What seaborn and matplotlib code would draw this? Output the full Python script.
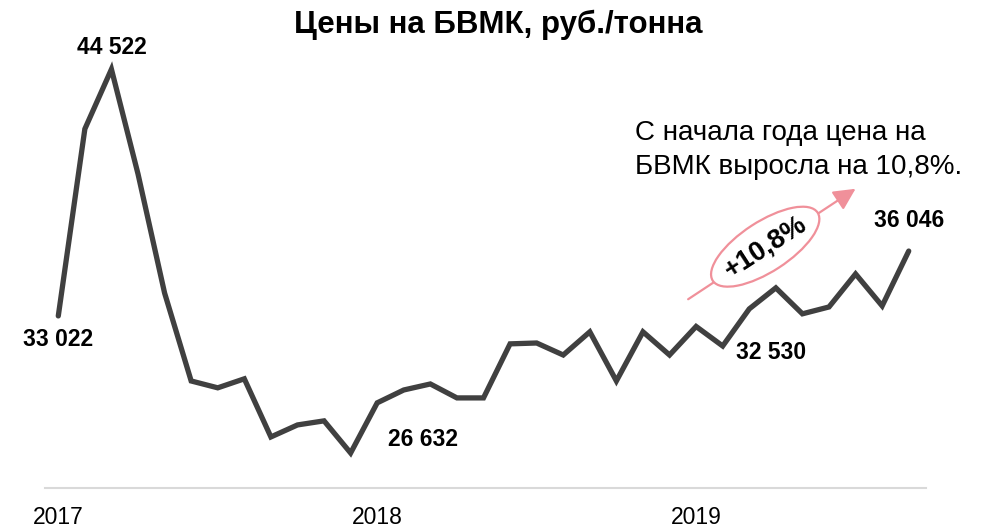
import matplotlib
matplotlib.use('Agg')
import matplotlib.pyplot as plt
import matplotlib.transforms as mtransforms
from matplotlib.patches import Ellipse
import numpy as np
import pandas as pd
import seaborn as sns

# monthly prices, Jan 2017 .. Sep 2019
months = pd.date_range('2017-01-01', periods=33, freq='MS')
prices = [33022, 41740, 44522, 39640, 34090, 29990, 29670, 30090, 27380, 27940, 28130, 26632,
          28970, 29570, 29850, 29200, 29200, 31720, 31760, 31200, 32280, 29990, 32280, 31200,
          32530, 31620, 33350, 34330, 33120, 33440, 34980, 33490, 36046]
year_ticks = ['2017', '2018', '2019']

# (index, label offset in points)
labeled = {0: (0, -17), 2: (0, 16), 11: (52, 9.5), 24: (54, -19), 32: (0, 22)}

title = 'Цены на БВМК, руб./тонна'
note = 'С начала года цена на\nБВМК выросла на 10,8%.'
growth = '+10,8%'

LINE_C = '#404040'
PINK = '#f0909a'

sns.set_theme(style='white')
plt.rcParams['font.family'] = ['Liberation Sans', 'DejaVu Sans']
plt.rcParams['text.color'] = 'black'
plt.rcParams['xtick.color'] = 'black'

df = pd.DataFrame({'i': np.arange(len(prices)), 'price': prices})

fig = plt.figure(figsize=(9.87, 5.29), dpi=100)
ax = fig.add_axes([45 / 987, 1 - 488 / 529, (926 - 45) / 987, (488 - 59) / 529])

sns.lineplot(data=df, x='i', y='price', ax=ax, color=LINE_C, lw=3.8,
             solid_joinstyle='miter')

ax.set_xlim(-0.5, 32.65)
ax.set_ylim(25000, 45000)
ax.set_yticks([])
ax.set_xticks([0, 12, 24])
ax.set_xticklabels(year_ticks, fontsize=16.5, color='black')
ax.tick_params(axis='x', length=0, pad=13)
ax.set_xlabel('')
ax.set_ylabel('')
for s in ['top', 'left', 'right']:
    ax.spines[s].set_visible(False)
ax.spines['bottom'].set_color('#d9d9d9')
ax.spines['bottom'].set_linewidth(1.5)

for i, off in labeled.items():
    ax.annotate(f'{prices[i]:,}'.replace(',', ' '), (i, prices[i]),
                xytext=off, textcoords='offset points',
                ha='center', va='center', fontsize=16.5, fontweight='bold',
                color='black')

fig.text(498 / 987, 1 - 25 / 529, title, ha='center', va='center',
         fontsize=22.5, fontweight='bold', color='black')

ax.text(21.7, 40750, note, fontsize=20, ha='left', va='center',
        linespacing=1.42, color='black')

# growth arrow with ellipse
ax.annotate('', xy=(30.0, 38950), xytext=(23.7, 33800),
            arrowprops=dict(arrowstyle='-|>,head_length=1.1,head_width=0.55',
                            color=PINK, lw=1.6, shrinkA=0, shrinkB=0))
trans = fig.dpi_scale_trans + mtransforms.ScaledTranslation(26.6, 36250, ax.transData)
ax.add_patch(Ellipse((0, 0), 1.25, 0.5, angle=33, transform=trans,
                     facecolor='white', edgecolor=PINK, lw=1.6, zorder=5))
ax.text(26.6, 36250, growth, rotation=33, rotation_mode='anchor',
        ha='center', va='center', fontsize=19.5, fontweight='bold',
        color='black', zorder=6)

fig.savefig('out.png', dpi=100)
